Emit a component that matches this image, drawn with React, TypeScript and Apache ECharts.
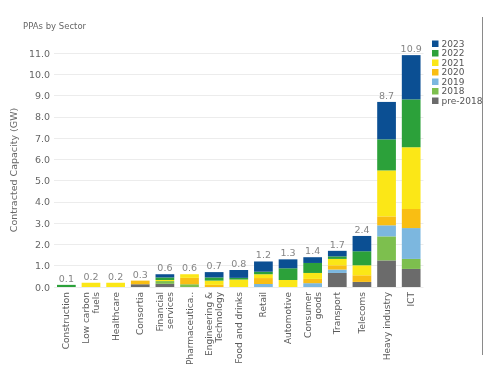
import React, { useEffect, useRef } from "react";
import * as echarts from "echarts";

const categories = [
  "Construction",
  "Low carbon\nfuels",
  "Healthcare",
  "Consortia",
  "Financial\nservices",
  "Pharmaceutica..",
  "Engineering &\nTechnology",
  "Food and drinks",
  "Retail",
  "Automotive",
  "Consumer\ngoods",
  "Transport",
  "Telecoms",
  "Heavy industry",
  "ICT",
];

const pre2018 = [0, 0, 0, 0.13, 0.15, 0, 0, 0, 0, 0, 0, 0.66, 0.24, 1.25, 0.85];
const y2018 = [0, 0, 0, 0, 0.13, 0.13, 0, 0, 0, 0, 0, 0, 0, 1.13, 0.47];
const y2019 = [0, 0, 0, 0, 0, 0, 0, 0, 0.14, 0, 0.18, 0.16, 0, 0.52, 1.45];
const y2020 = [0, 0, 0, 0.17, 0, 0.3, 0.1, 0, 0.28, 0, 0.2, 0.2, 0.31, 0.42, 0.9];
const y2021 = [0, 0.2, 0.2, 0, 0.05, 0.17, 0.2, 0.35, 0.18, 0.33, 0.28, 0.3, 0.47, 2.16, 2.9];
const y2022 = [0.1, 0, 0, 0, 0.12, 0, 0.15, 0.08, 0.12, 0.55, 0.47, 0.12, 0.66, 1.46, 2.25];
const y2023 = [0, 0, 0, 0, 0.15, 0, 0.25, 0.37, 0.48, 0.42, 0.27, 0.26, 0.72, 1.76, 2.08];
const totals = [0.1, 0.2, 0.2, 0.3, 0.6, 0.6, 0.7, 0.8, 1.2, 1.3, 1.4, 1.7, 2.4, 8.7, 10.9];

const seriesNames = ["pre-2018", "2018", "2019", "2020", "2021", "2022", "2023"];
const seriesData = [pre2018, y2018, y2019, y2020, y2021, y2022, y2023];
const seriesColors = ["#6b6b6b", "#7dbf4e", "#7cb7df", "#f9be13", "#fbe717", "#2ca13a", "#0b4f93"];
const legendOrder = ["2023", "2022", "2021", "2020", "2019", "2018", "pre-2018"];

const FONT = "DejaVu Sans";

export default function App() {
  const ref = useRef<HTMLDivElement>(null);
  useEffect(() => {
    if (!ref.current) return;
    const chart = echarts.init(ref.current, undefined, { renderer: "svg" });
    const barSeries = seriesNames.map((name, i) => ({
      name,
      type: "bar",
      stack: "total",
      barWidth: "76%",
      data: seriesData[i],
      itemStyle: { color: seriesColors[i] },
    }));
    chart.setOption({
      animation: false,
      textStyle: { fontFamily: FONT },
      title: {
        text: "PPAs by Sector",
        left: 18,
        top: 16,
        textStyle: { fontSize: 8.5, fontWeight: "normal", color: "#666", fontFamily: FONT },
      },
      legend: {
        data: legendOrder,
        orient: "vertical",
        left: 427,
        top: 34,
        itemWidth: 6.5,
        itemHeight: 6.5,
        itemGap: 0,
        icon: "rect",
        textStyle: {
          fontSize: 9,
          lineHeight: 9.5,
          color: "#555",
          fontFamily: FONT,
          padding: [0, 0, 0, -2],
        },
      },
      grid: { left: 49, right: 76.5, top: 53, bottom: 81, containLabel: false },
      xAxis: {
        type: "category",
        data: categories,
        axisLine: { show: false },
        axisTick: { show: false },
        axisLabel: {
          rotate: 90,
          interval: 0,
          fontSize: 9,
          color: "#5a5a5a",
          lineHeight: 10,
          margin: 5,
          fontFamily: FONT,
        },
      },
      yAxis: {
        type: "value",
        min: 0,
        max: 11,
        interval: 1,
        name: "Contracted Capacity (GW)",
        nameLocation: "middle",
        nameGap: 27,
        nameTextStyle: { fontSize: 9.5, color: "#666", fontFamily: FONT },
        axisLine: { show: false },
        axisTick: { show: false },
        splitLine: { lineStyle: { color: "#ececec", width: 1 } },
        axisLabel: {
          fontSize: 9.5,
          color: "#666",
          margin: 4,
          fontFamily: FONT,
          formatter: (v: number) => v.toFixed(1),
        },
      },
      graphic: [
        {
          type: "line",
          shape: { x1: 482.5, y1: 17, x2: 482.5, y2: 355 },
          style: { stroke: "#8a8a8a", lineWidth: 1 },
        },
      ],
      series: [
        ...barSeries,
        {
          name: "Total",
          type: "scatter",
          data: totals,
          symbolSize: 1,
          itemStyle: { color: "rgba(0,0,0,0)" },
          label: {
            show: true,
            position: "top",
            distance: 1,
            fontSize: 9.5,
            color: "#666",
            fontFamily: FONT,
            formatter: (p: any) => totals[p.dataIndex].toFixed(1),
          },
          z: 10,
        },
      ],
    });
    return () => chart.dispose();
  }, []);
  return <div ref={ref} style={{ position: "fixed", left: 0, top: 0, width: 500, height: 368 }} />;
}
